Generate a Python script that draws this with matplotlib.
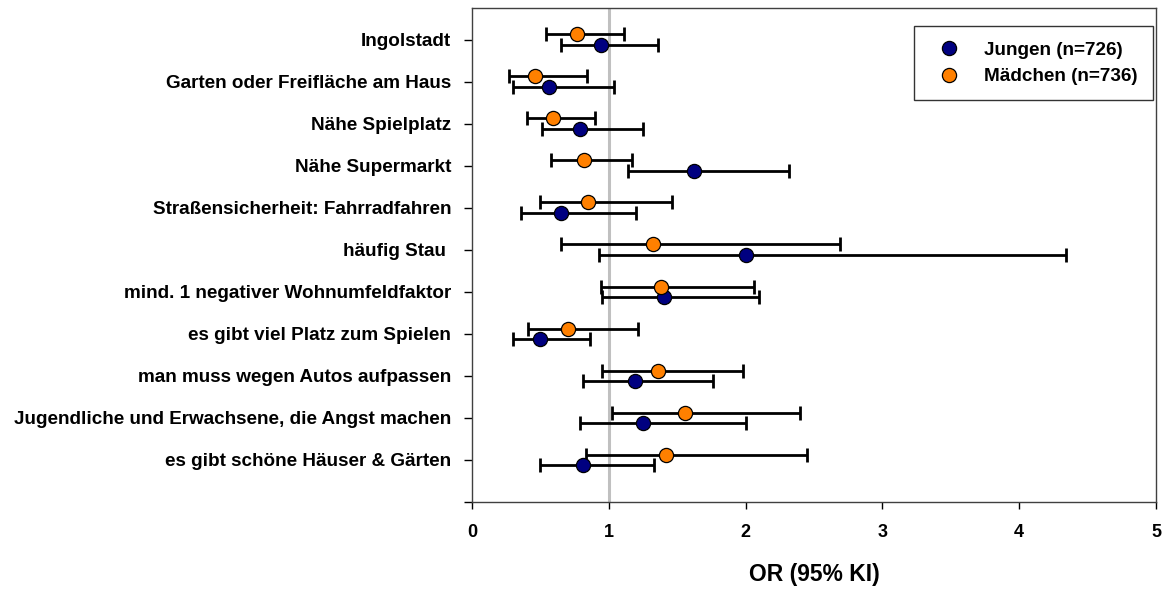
import matplotlib
matplotlib.use("Agg")
import matplotlib.pyplot as plt
import numpy as np

plt.rcParams['font.family'] = ['Liberation Sans', 'DejaVu Sans']
plt.rcParams['font.weight'] = 'bold'

categories = [
    "Ingolstadt",
    "Garten oder Freifläche am Haus",
    "Nähe Spielplatz",
    "Nähe Supermarkt",
    "Straßensicherheit: Fahrradfahren",
    "häufig Stau ",
    "mind. 1 negativer Wohnumfeldfaktor",
    "es gibt viel Platz zum Spielen",
    "man muss wegen Autos aufpassen",
    "Jugendliche und Erwachsene, die Angst machen",
    "es gibt schöne Häuser & Gärten",
]

# Jungen: odds ratio with lower / upper 95% CI
boys_or = [0.94, 0.56, 0.79, 1.62, 0.65, 2.00, 1.40, 0.50, 1.19, 1.25, 0.81]
boys_lo = [0.65, 0.30, 0.51, 1.14, 0.36, 0.93, 0.95, 0.30, 0.81, 0.79, 0.50]
boys_hi = [1.36, 1.04, 1.25, 2.32, 1.20, 4.34, 2.10, 0.86, 1.76, 2.00, 1.33]

# Mädchen: odds ratio with lower / upper 95% CI
girls_or = [0.77, 0.46, 0.59, 0.82, 0.85, 1.32, 1.38, 0.70, 1.36, 1.56, 1.42]
girls_lo = [0.54, 0.27, 0.40, 0.58, 0.50, 0.65, 0.94, 0.41, 0.95, 1.02, 0.83]
girls_hi = [1.11, 0.84, 0.90, 1.17, 1.46, 2.69, 2.06, 1.21, 1.98, 2.40, 2.45]

boys_label = "Jungen (n=726)"
girls_label = "Mädchen (n=736)"

n = len(categories)
ypos = np.arange(n, 0, -1)  # top category at n, bottom at 1

fig = plt.figure(figsize=(11.69, 5.90), dpi=100)
ax = fig.add_axes([472 / 1169, 1 - 502 / 590, (1156 - 472) / 1169, (502 - 8) / 590])

ax.axvline(1, color='#c0c0c0', lw=2.2, zorder=0)

def draw(vals, lo, hi, offset, color, label):
    vals = np.asarray(vals)
    err = np.vstack([vals - np.asarray(lo), np.asarray(hi) - vals])
    ax.errorbar(vals, ypos + offset, xerr=err, fmt='none', ecolor='black',
                elinewidth=2.0, capsize=5, capthick=2.0, zorder=2)
    ax.plot(vals, ypos + offset, 'o', ms=10.2, mfc=color, mec='black',
            mew=0.9, ls='none', zorder=3, label=label)

draw(boys_or, boys_lo, boys_hi, -0.13, '#000080', boys_label)
draw(girls_or, girls_lo, girls_hi, 0.13, '#ff8000', girls_label)

ax.set_xlim(0, 5)
ax.set_ylim(0, 11.76)
ax.set_xticks(range(6))
ax.set_xticklabels([str(i) for i in range(6)], fontsize=13, fontweight='bold')
ax.set_yticks(list(ypos) + [0])
ax.set_yticklabels(categories + [""], fontsize=13.6, fontweight='bold')
ax.tick_params(axis='y', direction='out', length=6, width=1, pad=9)
ax.tick_params(axis='x', direction='out', length=5, width=1, pad=11)
for s in ax.spines.values():
    s.set_color('#404040')
    s.set_linewidth(1.0)

ax.set_xlabel("OR (95% KI)", fontsize=16.5, fontweight='bold', labelpad=16)

handles, labels = ax.get_legend_handles_labels()
leg = ax.legend(handles, labels, loc='upper right', bbox_to_anchor=(0.9955, 0.963),
                prop={'weight': 'bold', 'size': 13.6}, frameon=True,
                fancybox=False, edgecolor='black', borderpad=0.8, handletextpad=0.8,
                labelspacing=0.5, handlelength=2.1, borderaxespad=0.0)
leg.get_frame().set_linewidth(1.0)

fig.savefig("out.png", dpi=100)
